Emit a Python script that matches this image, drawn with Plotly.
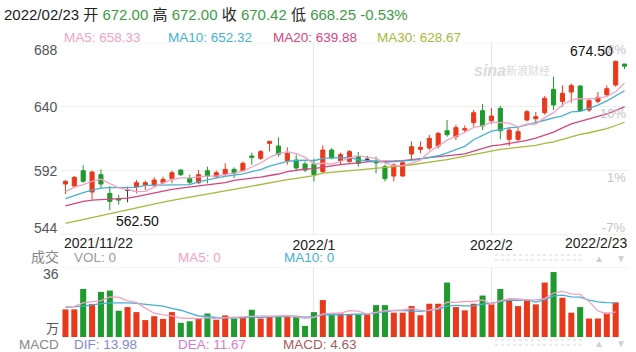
import numpy as np
import plotly.graph_objects as go

# ---------------- data ----------------
dates = [
    "2021-11-22", "2021-11-23", "2021-11-24", "2021-11-26", "2021-11-29", "2021-11-30",
    "2021-12-01", "2021-12-02", "2021-12-03", "2021-12-06", "2021-12-07", "2021-12-08",
    "2021-12-09", "2021-12-10", "2021-12-13", "2021-12-14", "2021-12-15", "2021-12-16",
    "2021-12-17", "2021-12-20", "2021-12-21", "2021-12-22", "2021-12-23", "2021-12-27",
    "2021-12-28", "2021-12-29", "2021-12-30", "2021-12-31",
    "2022-01-03", "2022-01-04", "2022-01-05", "2022-01-06", "2022-01-07", "2022-01-10",
    "2022-01-11", "2022-01-12", "2022-01-13", "2022-01-14", "2022-01-18", "2022-01-19",
    "2022-01-20", "2022-01-21", "2022-01-24", "2022-01-25", "2022-01-26", "2022-01-27",
    "2022-01-28", "2022-01-31",
    "2022-02-01", "2022-02-02", "2022-02-03", "2022-02-04", "2022-02-07", "2022-02-08",
    "2022-02-09", "2022-02-10", "2022-02-11", "2022-02-14", "2022-02-15", "2022-02-16",
    "2022-02-17", "2022-02-18", "2022-02-22", "2022-02-23",
]
opens = [582, 580.5, 592, 576, 589, 575, 571, 577.5, 580, 581,
         581.3, 583, 586, 592.5, 586.3, 583, 592, 587.5, 589.3, 593,
         592, 603, 601.3, 612.5, 610.5, 599.5, 600, 597, 597, 591.3,
         607.5, 599.5, 599, 602.5, 600.5, 598.5, 595, 588, 588, 604.5,
         608, 609, 610.5, 622, 617.5, 622.5, 628, 637, 629.5, 638.8,
         615.5, 615.5, 630, 631, 635.5, 653, 644, 651, 655.5, 637.5,
         644, 649, 656.3, 672]
highs = [585, 588, 596, 592, 593, 580.5, 574, 580, 585, 584.5,
         587, 587.5, 592, 593, 589, 592.5, 595, 592, 597.5, 594.5,
         599, 605.5, 607.5, 614.5, 617, 609.5, 604, 599, 601, 611,
         609, 605.5, 607.5, 606, 603, 602.5, 596.5, 597.5, 599, 614,
         614, 618.8, 621, 630, 626.3, 626, 637.5, 642, 639, 640.5,
         624.5, 624, 637.5, 636, 648, 662.5, 656, 657.5, 656, 646.3,
         651, 656, 674.5, 672]
lows = [574.5, 579, 583, 570.5, 579, 562.5, 566.5, 568.3, 575, 577.5,
        579.5, 582, 582.5, 588, 581.5, 582, 582.5, 586, 587.5, 586.5,
        591.5, 596.5, 600, 606.5, 602.5, 596.5, 592, 591, 584, 590,
        600.5, 596.5, 598, 595, 598.5, 590, 584, 584, 587.5, 600,
        605, 607.5, 608.5, 617.5, 615, 621, 625, 622.5, 627, 615.5,
        610.5, 614, 629, 627.5, 634, 637.5, 640, 643, 636, 636,
        642.5, 647.5, 655, 668.25]
closes = [584, 587, 584, 591, 582, 569, 570, 577.5, 583, 583,
          585, 585.5, 590.5, 589, 583.3, 589, 588, 590.5, 593, 590,
          597.5, 602, 606.3, 614, 604.3, 605, 594, 592.5, 589, 607.5,
          601.5, 604, 606.3, 597.5, 600.5, 598, 586, 596.3, 598, 610,
          609.5, 616.3, 620, 619, 624.3, 623.5, 635.5, 625.5, 633, 622,
          622.5, 621.3, 636.3, 632.5, 646.3, 641.3, 650, 655.8, 637, 644.5,
          647, 653.5, 674, 670.42]
volumes = [14.2, 14.2, 24.7, 17.0, 23.2, 23.9, 13.5, 15.4, 12.8, 8.7,
           10.7, 9.3, 12.8, 7.3, 8.1, 9.5, 12.1, 8.8, 11.1, 9.5,
           10.0, 14.0, 9.5, 10.4, 10.4, 10.9, 10.9, 5.7, 12.8, 19.0,
           12.1, 12.1, 11.6, 11.6, 11.6, 16.4, 16.4, 12.5, 12.5, 15.9,
           11.2, 17.1, 17.1, 28.0, 15.4, 13.7, 17.1, 21.3, 16.8, 24.7,
           19.0, 15.9, 19.0, 16.8, 28.0, 33.4, 20.2, 12.5, 15.4, 9.5,
           9.5, 12.5, 17.8, 0.0]

# moving-average values for bars before a full window exists
ma5_lead = [576.3, 579.5, 581.5, 584.0]
ma10_lead = [571.0, 573.5, 575.5, 577.5, 579.0, 579.3, 579.3, 579.3, 579.5]
ma20_lead = [565.6, 567.5, 569.0, 570.0, 570.4, 570.6, 570.9, 571.4, 572.6, 574.0,
             575.5, 576.8, 578.0, 579.0, 579.8, 580.6, 581.4, 582.2, 583.0]
ma30_lead = [552.5, 554.0, 555.5, 557.0, 558.5, 560.0, 561.5, 563.0, 564.5, 566.0,
             567.3, 568.5, 569.7, 570.8, 572.0, 573.2, 574.4, 575.6, 576.8, 578.0,
             579.3, 580.5, 581.7, 583.0, 584.2, 585.3, 586.3, 587.3, 588.3]
vma5_lead = [15.5, 15.8, 17.5, 18.0]
vma10_lead = [15.2, 15.5, 15.9, 16.5, 17.2, 17.5, 17.6, 17.5, 17.3]

y_ticks = [544, 592, 640, 688]
y_tick_text = ["544", "592", "640", "688"]
pct_text = ["-7%", "1%", "10%", "18%"]
x_tick_dates = ["2022-01-03", "2022-02-01"]
x_tick_text = ["2022/1", "2022/2"]
edge_dates = ["2021/11/22", "2022/2/23"]
vol_top = 36

# ---------------- helpers ----------------
W, H = 636, 352
ML, MR = 61, 7
PW = W - ML - MR


def px(x):
    return (x - ML) / PW


def py(y):
    return 1 - y / H


def moving_avg(vals, n, lead):
    a = np.array(vals, dtype=float)
    out = np.empty(len(a))
    for i in range(len(a)):
        out[i] = a[i - n + 1:i + 1].mean() if i >= n - 1 else lead[i]
    return out


RED = "#e8391d"
GREEN = "#1f9a2e"
C_MA5 = "#f2a2c4"
C_MA10 = "#47b0d6"
C_MA20 = "#d4467e"
C_MA30 = "#a8b83c"
FONT = "Arial, Liberation Sans, Noto Sans CJK SC, sans-serif"

o = np.array(opens); c = np.array(closes)
flat = o == c

fig = go.Figure()


def masked(arr, m):
    return [v if mm else None for v, mm in zip(arr, m)]


fig.add_trace(go.Candlestick(
    x=dates, open=masked(opens, ~flat), high=masked(highs, ~flat),
    low=masked(lows, ~flat), close=masked(closes, ~flat),
    increasing=dict(line=dict(color=RED, width=1), fillcolor=RED),
    decreasing=dict(line=dict(color=GREEN, width=1), fillcolor=GREEN),
    whiskerwidth=0, xaxis="x", yaxis="y", showlegend=False, hoverinfo="skip"))
# flat candles (open == close) drawn dark
fig.add_trace(go.Candlestick(
    x=dates, open=masked(opens, flat), high=masked(highs, flat),
    low=masked(lows, flat), close=masked(closes, flat),
    increasing=dict(line=dict(color="#333333", width=1), fillcolor="#333333"),
    decreasing=dict(line=dict(color="#333333", width=1), fillcolor="#333333"),
    whiskerwidth=0, xaxis="x", yaxis="y", showlegend=False, hoverinfo="skip"))

for n, lead, col in [(30, ma30_lead, C_MA30), (20, ma20_lead, C_MA20),
                     (10, ma10_lead, C_MA10), (5, ma5_lead, C_MA5)]:
    fig.add_trace(go.Scatter(x=dates, y=moving_avg(closes, n, lead), mode="lines",
                             line=dict(color=col, width=1.3), xaxis="x", yaxis="y",
                             showlegend=False, hoverinfo="skip"))

vol_colors = [RED if cc >= oo else GREEN for oo, cc in zip(opens, closes)]
fig.add_trace(go.Bar(x=dates, y=volumes, marker=dict(color=vol_colors, line=dict(width=0)),
                     xaxis="x2", yaxis="y2", showlegend=False, hoverinfo="skip"))
vma5 = moving_avg(volumes, 5, vma5_lead)[:-1]
vma10 = moving_avg(volumes, 10, vma10_lead)[:-1]
fig.add_trace(go.Scatter(x=dates[:-1], y=vma10, mode="lines", line=dict(color=C_MA10, width=1.3),
                         xaxis="x2", yaxis="y2", showlegend=False, hoverinfo="skip"))
fig.add_trace(go.Scatter(x=dates[:-1], y=vma5, mode="lines", line=dict(color=C_MA5, width=1.3),
                         xaxis="x2", yaxis="y2", showlegend=False, hoverinfo="skip"))

main_dom = [py(234.7), py(42.7)]
vol_dom = [py(337), py(267)]
xcommon = dict(type="category", range=[-0.5, len(dates) - 0.5], tickvals=x_tick_dates,
               showgrid=True, gridcolor="#e6e6e6", gridwidth=1, zeroline=False,
               showline=False, ticks="", fixedrange=True)

fig.update_layout(
    width=W, height=H, margin=dict(l=ML, r=MR, t=0, b=0),
    paper_bgcolor="white", plot_bgcolor="white", boxgap=0.34, bargap=0.32,
    font=dict(family=FONT, color="#333"),
    xaxis=dict(domain=[0, 1], anchor="y", ticktext=x_tick_text,
               tickfont=dict(size=14, color="#222"), rangeslider=dict(visible=False),
               **xcommon),
    yaxis=dict(domain=main_dom, range=[544, 688], tickvals=[592, 640], showticklabels=False,
               gridcolor="#eeeeee", zeroline=False, showline=False, fixedrange=True),
    xaxis2=dict(domain=[0, 1], anchor="y2", showticklabels=False, **xcommon),
    yaxis2=dict(domain=vol_dom, range=[0, vol_top], showgrid=False, showticklabels=False,
                zeroline=False, showline=False, fixedrange=True),
)

shapes = []
for yv in (y_ticks[0], y_ticks[-1]):
    shapes.append(dict(type="line", xref="paper", yref="y", x0=0, x1=1, y0=yv, y1=yv,
                       line=dict(color="#e6e6e6", width=1)))
shapes.append(dict(type="line", xref="paper", yref="y2", x0=0, x1=1, y0=vol_top, y1=vol_top,
                   line=dict(color="#eeeeee", width=1)))
for yy in (255, 260, 340, 345):
    shapes.append(dict(type="line", xref="paper", yref="paper", x0=px(495), x1=px(583),
                       y0=py(yy), y1=py(yy), line=dict(color="#d6d6d6", width=1, dash="dot")))
fig.update_layout(shapes=shapes)

ann = []


def text(x, y, s, size=13, color="#333", xanchor="left", yanchor="middle", **kw):
    ann.append(dict(xref="paper", yref="paper", x=px(x), y=py(y), text=s, showarrow=False,
                    xanchor=xanchor, yanchor=yanchor, font=dict(size=size, color=color, family=FONT),
                    **kw))


G = "#3f9a45"
hdr = ("2022/02/23 开 <span style='color:%s'>672.00</span> 高 <span style='color:%s'>672.00</span> "
       "收 <span style='color:%s'>670.42</span> 低 <span style='color:%s'>668.25 -0.53%%</span>") % (G, G, G, G)
text(2, 14, hdr, size=15, color="#222")
text(62, 37, "MA5: 658.33", 13.5, C_MA5)
text(166, 37, "MA10: 652.32", 13.5, C_MA10)
text(271, 37, "MA20: 639.88", 13.5, C_MA20)
text(375, 37, "MA30: 628.67", 13.5, C_MA30)

# left price labels
for yv, lab in zip(y_ticks, y_tick_text):
    yy = 234.7 - (yv - 544) * (192 / 144)
    yy = min(max(yy, 50), 228)
    text(60, yy, lab, 14, "#555", xanchor="right")
# right percentage labels
for yv, lab in zip(y_ticks, pct_text):
    yy = 234.7 - (yv - 544) * (192 / 144)
    yy = 227 if yv == 544 else yy + 7
    text(628, yy, lab, 13, "#c4c4c4", xanchor="right")

text(62, 243, edge_dates[0], 14, "#222")
text(629, 243, edge_dates[1], 14, "#222", xanchor="right")

# extremes
imax = int(np.argmax(highs)); imin = int(np.argmin(lows))
ann.append(dict(xref="x", yref="y", x=dates[imax], y=highs[imax], text="%.2f" % highs[imax],
                showarrow=False, xanchor="right", yanchor="bottom", xshift=-1, yshift=0,
                font=dict(size=14, color="#111", family=FONT)))
ann.append(dict(xref="x", yref="y", x=dates[imin], y=lows[imin], text="%.2f" % lows[imin],
                showarrow=False, xanchor="left", yanchor="top", xshift=4, yshift=-1,
                font=dict(size=14, color="#111", family=FONT)))

# watermark
text(490, 70, "<b><i>sina</i></b>", 16, "#dadada", xanchor="center")
text(528, 70, "新浪财经", 11, "#dadada", xanchor="center")

# volume header
text(61, 257, "成交", 14, "#888", xanchor="right")
text(72, 257, "VOL: 0", 13.5, "#9a9a9a")
text(176, 257, "MA5: 0", 13.5, C_MA5)
text(282, 257, "MA10: 0", 13.5, C_MA10)
text(599, 258, "▲", 10, "#d0d0d0", xanchor="center")
text(621, 258, "▼", 10, "#d0d0d0", xanchor="center")
text(61, 274, str(vol_top), 14, "#555", xanchor="right")
text(61, 328, "万", 13, "#555", xanchor="right")

# MACD header
text(61, 344, "MACD", 13.5, "#888", xanchor="right")
text(72, 344, "DIF: 13.98", 13.5, "#8585d6")
text(176, 344, "DEA: 11.67", 13.5, "#d67ccf")
text(281, 344, "MACD: 4.63", 13.5, "#a65c5c")
text(599, 343, "▲", 10, "#d0d0d0", xanchor="center")
text(621, 343, "▼", 10, "#d0d0d0", xanchor="center")

fig.update_layout(annotations=ann)
fig.write_html("out.html")
